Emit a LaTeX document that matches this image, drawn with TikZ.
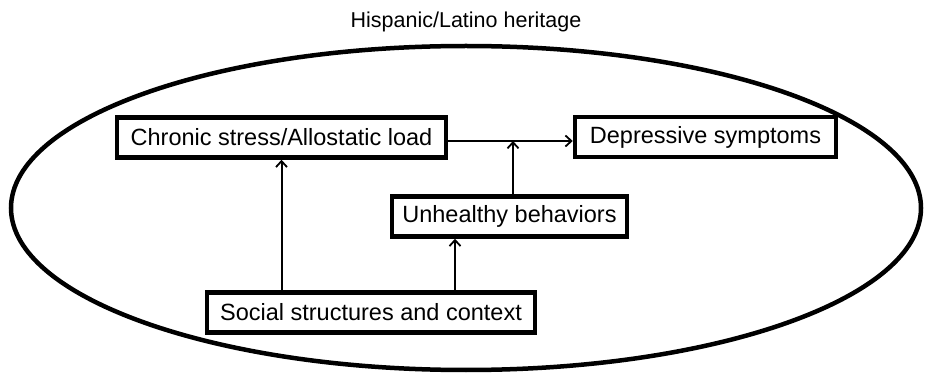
\documentclass[tikz,border=0pt]{standalone}
\usepackage{fontspec}
\setmainfont{Liberation Sans}
\usetikzlibrary{arrows.meta,calc}
\begin{document}
\begin{tikzpicture}[x=1pt,y=-1pt,
  box/.style={draw,line width=4.5pt,inner sep=0pt,minimum height=40pt,font=\fontsize{23.5}{28}\selectfont,anchor=center},
  arr/.style={line width=2pt,-{Straight Barb[length=6pt,width=11pt,line width=1.8pt]}}]
\useasboundingbox (0,0) rectangle (927,374);
\draw[line width=4.5pt] (466,208) ellipse [x radius=455, y radius=162];
\node[font=\fontsize{21.5}{26}\selectfont] (t) at (466,22) {Hispanic/Latino heritage};
\node[box,minimum width=329pt] (c) at (281.5,137.5) {Chronic stress/Allostatic load};
\node[box,minimum width=261pt] (d) at (705.5,137) {Depressive symptoms};
\node[box,minimum width=235pt] (u) at (509.5,216.5) {Unhealthy behaviors};
\node[box,minimum width=328pt] (s) at (371,312.5) {Social structures and context};
\coordinate (j) at (513,141);
\draw[arr] (c.east |- j) -- (d.west |- j);
\draw[arr] (u.north -| j) -- (j);
\draw[arr] (s.north -| c.south) -- (c.south);
\draw[arr] ([xshift=84pt]s.north) -- ([xshift=84pt]s.north |- u.south);
\end{tikzpicture}
\end{document}
